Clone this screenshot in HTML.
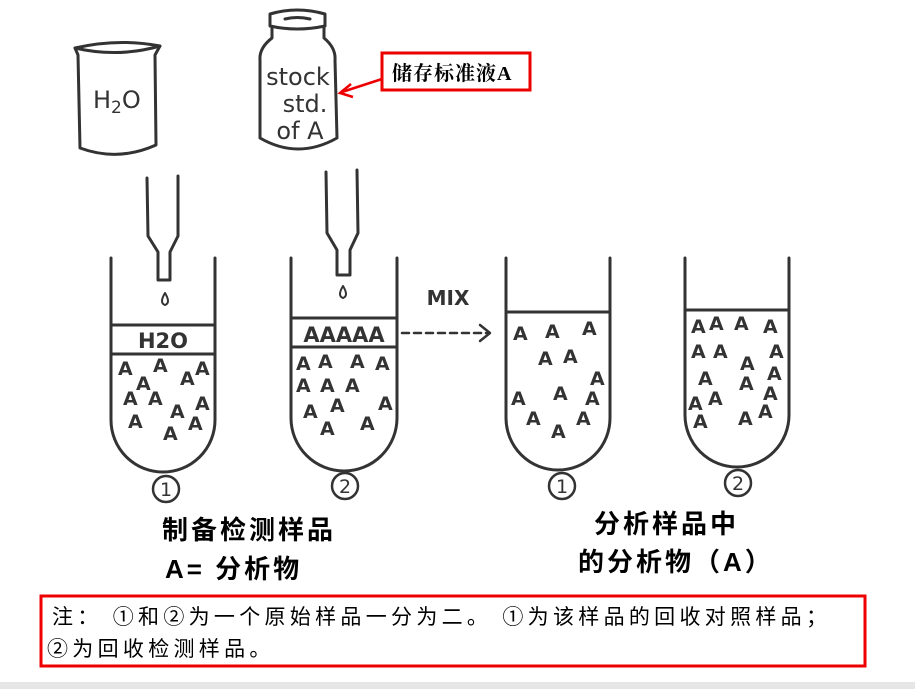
<!DOCTYPE html>
<html><head><meta charset="utf-8"><style>
body{margin:0;background:#fff;}
svg{display:block}
</style></head><body>
<svg width="915" height="689" viewBox="0 0 915 689" xmlns="http://www.w3.org/2000/svg">
<rect width="915" height="689" fill="#fff"/>
<rect x="0" y="682" width="915" height="7" fill="#e6e6e6"/>
<g fill="none" stroke="#333" stroke-width="3" stroke-linecap="round" stroke-linejoin="round">
<path d="M75 48 Q118 38 160 46 L155 55 L156 145 Q118 162 80 148 L78 55 Z"/>
<path d="M75 48 Q118 58 160 46"/>
<path d="M270 14 Q297 6 325 14 L325 26 Q297 32 270 26 Z"/>
<path d="M285 19 Q297 16 310 19"/>
<path d="M272 27 L272 38 Q259 48 260 60 L260 138 Q298 160 337 138 L335 60 Q336 48 324 38 L324 27"/>
<path d="M147 178 L148 236 L158 252 L158 280 L170 280 L170 252 L178 236 L178 176"/>
<path d="M326 172 L327 233 L337 250 L337 275 L350 275 L350 250 L358 233 L357 170"/>
<path d="M165 293 Q159 303 165 305 Q171 303 165 293 Z" stroke-width="2"/>
<path d="M343 286 Q337 296 343 298 Q349 296 343 286 Z" stroke-width="2"/>
<path d="M111 258 L111 420 A52 52 0 0 0 215 420 L215 258"/>
<path d="M111 325 L215 325 M111 354 L215 354"/>
<path d="M291 258 L291 418 A53 53 0 0 0 397 418 L397 258"/>
<path d="M291 318 L397 318 M291 347 L397 347"/>
<path d="M506 258 L506 418 A52 52 0 0 0 610 418 L610 258"/>
<path d="M506 312 L610 312"/>
<path d="M685 258 L685 415 A52 52 0 0 0 789 415 L789 258"/>
<path d="M685 310 L789 310"/>
<path d="M402 333 L488 333" stroke-dasharray="7 5" stroke-width="2.5"/>
<path d="M480 325 L490 333 L480 341" stroke-width="2.5"/>
<circle cx="166" cy="489" r="13" stroke-width="2.5"/>
<circle cx="345" cy="486" r="13" stroke-width="2.5"/>
<circle cx="562" cy="486" r="13" stroke-width="2.5"/>
<circle cx="738" cy="483" r="13" stroke-width="2.5"/>
</g>
<g fill="#333" font-family="'DejaVu Sans','Liberation Sans',sans-serif" font-weight="normal">
<text x="93" y="108" font-size="24">H<tspan font-size="17" dy="5">2</tspan><tspan dy="-5">O</tspan></text>
<text x="298" y="85" font-size="24" text-anchor="middle">stock</text>
<text x="305" y="112" font-size="24" text-anchor="middle">std.</text>
<text x="300" y="139" font-size="24" text-anchor="middle">of A</text>
<text x="163" y="348" font-size="21" font-weight="bold" text-anchor="middle">H2O</text>
<text x="344" y="342" font-size="21" font-weight="bold" text-anchor="middle">AAAAA</text>
<text x="448" y="305" font-size="20" font-weight="bold" text-anchor="middle">MIX</text>
<text x="166" y="496" font-size="19" text-anchor="middle">1</text>
<text x="345" y="493" font-size="19" text-anchor="middle">2</text>
<text x="562" y="493" font-size="19" text-anchor="middle">1</text>
<text x="738" y="490" font-size="19" text-anchor="middle">2</text>
<g font-size="19" font-weight="bold">
<text x="118" y="375">A</text><text x="136" y="390">A</text><text x="153" y="372">A</text><text x="180" y="385">A</text><text x="195" y="375">A</text>
<text x="123" y="405">A</text><text x="148" y="405">A</text><text x="170" y="418">A</text><text x="195" y="410">A</text>
<text x="128" y="428">A</text><text x="163" y="440">A</text><text x="188" y="430">A</text>
<text x="296" y="370">A</text><text x="318" y="368">A</text><text x="350" y="368">A</text><text x="375" y="370">A</text>
<text x="296" y="392">A</text><text x="320" y="392">A</text><text x="345" y="392">A</text>
<text x="303" y="418">A</text><text x="330" y="412">A</text><text x="378" y="410">A</text>
<text x="320" y="435">A</text><text x="360" y="430">A</text>
<text x="513" y="340">A</text><text x="545" y="338">A</text><text x="582" y="335">A</text>
<text x="538" y="365">A</text><text x="563" y="363">A</text><text x="590" y="385">A</text>
<text x="511" y="405">A</text><text x="553" y="400">A</text><text x="585" y="405">A</text>
<text x="526" y="425">A</text><text x="551" y="438">A</text><text x="576" y="425">A</text>
<text x="691" y="333">A</text><text x="709" y="330">A</text><text x="734" y="330">A</text><text x="763" y="333">A</text>
<text x="691" y="358">A</text><text x="713" y="358">A</text><text x="740" y="370">A</text><text x="769" y="358">A</text>
<text x="767" y="380">A</text><text x="739" y="390">A</text><text x="698" y="385">A</text>
<text x="688" y="410">A</text><text x="708" y="405">A</text><text x="763" y="400">A</text>
<text x="693" y="428">A</text><text x="738" y="425">A</text><text x="758" y="418">A</text>
</g>
</g>
<rect x="382" y="53" width="148" height="37" fill="#fff" stroke="#e00" stroke-width="3"/>
<text x="392" y="80" font-family="'Liberation Serif','Noto Serif CJK SC',serif" font-size="20" font-weight="bold" fill="#000" letter-spacing="1">储存标准液A</text>
<path d="M382 79 L342 92" stroke="#e00" stroke-width="2.5"/>
<path d="M351 84 L340 93 L353 97" fill="none" stroke="#e00" stroke-width="2.5"/>
<g font-family="'Liberation Sans','Noto Sans CJK SC',sans-serif" font-size="26" fill="#000" font-weight="bold" letter-spacing="3">
<text x="162" y="539">制备检测样品</text>
<text x="165" y="578">A= 分析物</text>
<text x="594" y="533">分析样品中</text>
<text x="578" y="571">的分析物（A）</text>
</g>
<rect x="41" y="596" width="824" height="70" fill="#fff" stroke="#e00" stroke-width="3"/>
<g font-family="'Liberation Sans','Noto Sans CJK SC',sans-serif" font-size="21" fill="#000" letter-spacing="4.3">
<text x="52" y="624">注： ①和②为一个原始样品一分为二。 ①为该样品的回收对照样品；</text>
<text x="47" y="656">②为回收检测样品。</text>
</g>
</svg>
</body></html>
